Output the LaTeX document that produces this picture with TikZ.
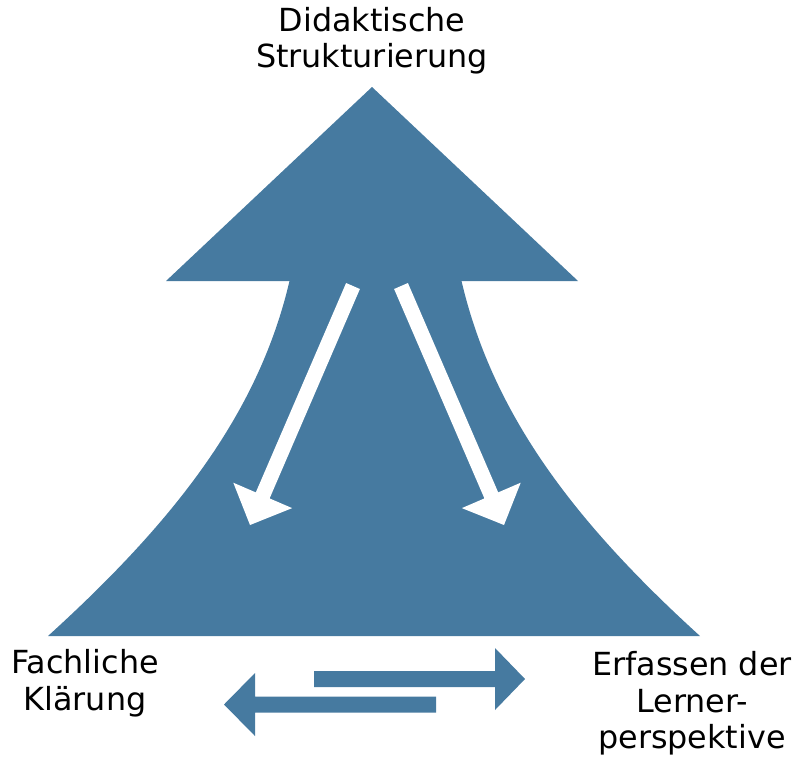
\documentclass[tikz,border=0pt]{standalone}
\usepackage{fontspec}
\setmainfont{DejaVu Sans}
\definecolor{mainblue}{RGB}{70,122,160}
\tikzset{
  lbl/.style={anchor=base, inner sep=0pt, text=black, font=\fontsize{31.8}{37}\selectfont},
  bluefill/.style={fill=mainblue, draw=none},
  whitefill/.style={fill=white, draw=none}
}
\begin{document}
\begin{tikzpicture}[x=1pt,y=-1pt]
\useasboundingbox (0,0) rectangle (797,756);
% main shape
\fill[bluefill] (48,636) .. controls (178,518) and (259,411) .. (289.5,281)
  -- (166,281) -- (372,87) -- (578,281) -- (461.5,281)
  .. controls (492,411) and (570,518) .. (700,636) -- cycle;
% white arrows
\fill[whitefill] (346.1,283) -- (255.8,492.4) -- (233.3,482.7) -- (250,525)
  -- (292.1,508.1) -- (269.6,498.4) -- (359.9,289) -- cycle;
\fill[whitefill] (407.9,283) -- (498.2,492.4) -- (520.7,482.7) -- (504,525)
  -- (461.9,508.1) -- (484.4,498.4) -- (394.1,289) -- cycle;
% bottom arrows
\fill[bluefill] (314,671) -- (495,671) -- (495,648) -- (525,679) -- (495,710)
  -- (495,687) -- (314,687) -- cycle;
\fill[bluefill] (436,696.5) -- (255,696.5) -- (255,673) -- (224,704.5) -- (255,736)
  -- (255,712.5) -- (436,712.5) -- cycle;
% labels
\node[lbl] (d1) at (372,31) {Didaktische};
\node[lbl] (d2) at (372,67) {Strukturierung};
\node[lbl] (f1) at (85,673) {Fachliche};
\node[lbl] (f2) at (85,710) {Klärung};
\node[lbl] (e1) at (692,675) {Erfassen der};
\node[lbl] (e2) at (692,712) {Lerner-};
\node[lbl] (e3) at (692,748) {perspektive};
\end{tikzpicture}
\end{document}
